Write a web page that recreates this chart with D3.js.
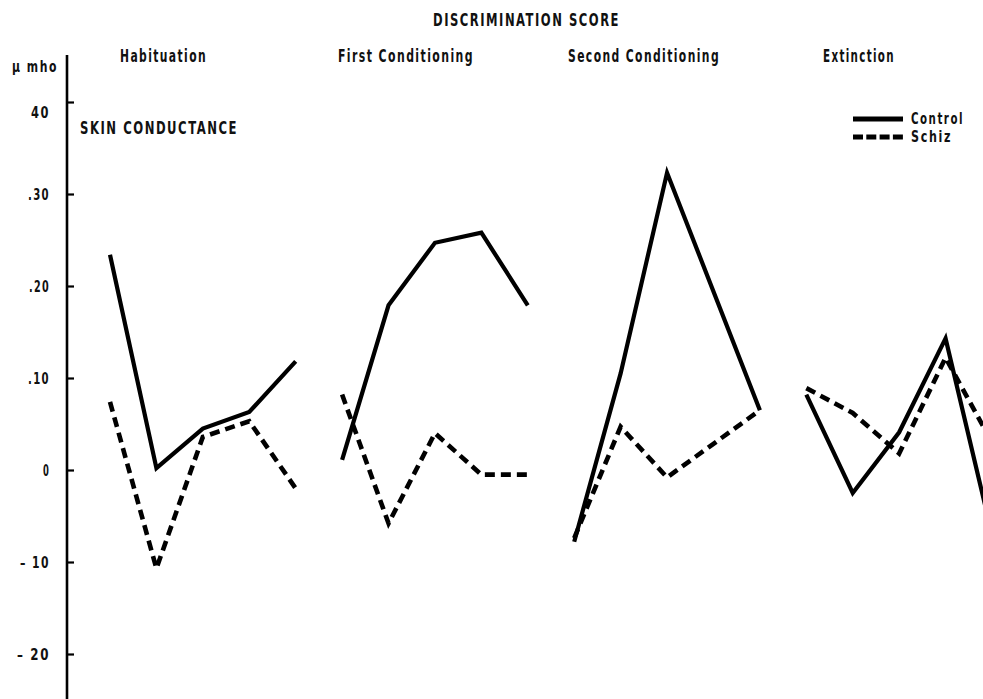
<!DOCTYPE html>
<html>
<head>
<meta charset="utf-8">
<script src="https://cdn.jsdelivr.net/npm/d3@7/dist/d3.min.js"></script>
<style>
  html, body { margin: 0; padding: 0; background: #fff; }
  svg { display: block; }
  text { font-family: "Liberation Sans Narrow", "DejaVu Sans Condensed", "Roboto Condensed", sans-serif; font-weight: bold; fill: #111; }
</style>
</head>
<body>
<svg id="chart" width="983" height="699"></svg>
<script>
// Phases of the experiment, in order along the horizontal axis
const phases = ["Habituation", "First Conditioning", "Second Conditioning", "Extinction"];

// Trial numbers within each phase that carry a plotted value
const habTrials = [0, 1, 2, 3, 4];
const firstTrials = [0, 1, 2, 3, 4];
const secondTrials = [0, 1, 2, 4];
const extTrials = [0, 1, 2, 3, 4];

// Discrimination score (skin conductance, µmho) — control group
const controlHab = [0.234, 0.002, 0.045, 0.063, 0.118];
const controlFirst = [0.011, 0.179, 0.247, 0.258, 0.179];
const controlSecond = [-0.078, 0.105, 0.323, 0.065];
const controlExt = [0.082, -0.025, 0.041, 0.143, -0.070];

// Discrimination score — schizophrenic group
const schizHab = [0.074, -0.107, 0.036, 0.053, -0.020];
const schizFirst = [0.082, -0.058, 0.040, -0.005, -0.005];
const schizSecond = [-0.074, 0.047, -0.008, 0.065];
const schizExt = [0.089, 0.062, 0.018, 0.122, 0.030];

// Vertical axis ticks and their printed labels
const yTicks = [0.4, 0.3, 0.2, 0.1, 0, -0.1, -0.2];
const yTickLabels = ["40", ".30", ".20", ".10", "0", "\u2013 10", "\u2013 20"];

// Legend entries
const seriesNames = ["Control", "Schiz"];

const svg = d3.select("#chart");
const trialsPerPhase = 5;

const x = d3.scaleLinear().domain([0, 19]).range([110, 992]);
const y = d3.scaleLinear().domain([-0.2, 0.4]).range([654, 102]);

const axisX = 67;

// ---- vertical axis
svg.append("line")
  .attr("x1", axisX).attr("x2", axisX)
  .attr("y1", 55).attr("y2", 699)
  .attr("stroke", "#000").attr("stroke-width", 2.6);

const yAxis = d3.axisLeft(y)
  .tickValues(yTicks)
  .tickFormat((d, i) => yTickLabels[i])
  .tickSizeInner(-7)
  .tickSizeOuter(0)
  .tickPadding(17);

// printed widths of the tick labels (narrow, widely spaced lettering)
const tickLabelWidths = [19, 22, 21, 22, 7, 30, 33];

const gy = svg.append("g")
  .attr("transform", `translate(${axisX},0)`)
  .call(yAxis);
gy.select(".domain").remove();
gy.selectAll(".tick line").attr("stroke", "#000").attr("stroke-width", 2.2);
gy.selectAll(".tick text")
  .attr("font-size", 16.5)
  .attr("font-weight", "bold")
  .attr("fill", "#111")
  .attr("font-family", null)
  .attr("letter-spacing", "2px")
  .attr("textLength", (d, i) => tickLabelWidths[i])
  .attr("lengthAdjust", "spacingAndGlyphs");
gy.selectAll(".tick").filter(d => d === 0.4).select("text").attr("dy", "0.95em");

// shared style for the lettered labels
function lettering(sel, size, width) {
  return sel
    .attr("font-size", size)
    .attr("letter-spacing", "2px")
    .attr("textLength", width)
    .attr("lengthAdjust", "spacingAndGlyphs");
}

// unit label
lettering(svg.append("text").attr("x", 12).attr("y", 72), 15.5, 46)
  .text("\u03BC mho");

// ---- titles
lettering(svg.append("text").attr("x", 433).attr("y", 26), 17, 187)
  .text("DISCRIMINATION SCORE");

const phaseLabelLayout = [
  { x: 120, w: 87 },
  { x: 338, w: 136 },
  { x: 568, w: 152 },
  { x: 823, w: 72 }
];
svg.selectAll("text.phase")
  .data(phases)
  .join("text")
  .attr("class", "phase")
  .attr("x", (d, i) => phaseLabelLayout[i].x)
  .attr("y", 62)
  .attr("font-size", 17)
  .attr("letter-spacing", "2px")
  .attr("textLength", (d, i) => phaseLabelLayout[i].w)
  .attr("lengthAdjust", "spacingAndGlyphs")
  .text(d => d);

lettering(svg.append("text").attr("x", 80).attr("y", 134), 17, 158)
  .text("SKIN CONDUCTANCE");

// ---- data lines, one polyline per phase and group
const groups = [
  { name: "Control", dashed: false, phases: [
      [habTrials, controlHab], [firstTrials, controlFirst], [secondTrials, controlSecond], [extTrials, controlExt]] },
  { name: "Schiz", dashed: true, phases: [
      [habTrials, schizHab], [firstTrials, schizFirst], [secondTrials, schizSecond], [extTrials, schizExt]] }
];

const line = d3.line().x(d => x(d.t)).y(d => y(d.v));

groups.forEach(g => {
  g.phases.forEach(([trials, values], p) => {
    const pts = values.map((v, i) => ({ t: p * trialsPerPhase + trials[i], v }));
    svg.append("path")
      .datum(pts)
      .attr("d", line)
      .attr("fill", "none")
      .attr("stroke", "#000")
      .attr("stroke-width", g.dashed ? 4.6 : 4.2)
      .attr("stroke-dasharray", g.dashed ? "10,6" : null)
      .attr("stroke-linejoin", "miter")
      .attr("stroke-miterlimit", 6)
      .attr("stroke-linecap", "butt");
  });
});

// ---- legend
const legend = svg.append("g");
seriesNames.forEach((name, i) => {
  const ly = 119 + i * 18;
  legend.append("line")
    .attr("x1", 853).attr("x2", 903)
    .attr("y1", ly).attr("y2", ly)
    .attr("stroke", "#000")
    .attr("stroke-width", 5)
    .attr("stroke-dasharray", i === 1 ? "10,3.3" : null);
  lettering(legend.append("text").attr("x", 911).attr("y", ly + 5), 15, i === 0 ? 53 : 41)
    .text(name);
});
</script>
</body>
</html>
